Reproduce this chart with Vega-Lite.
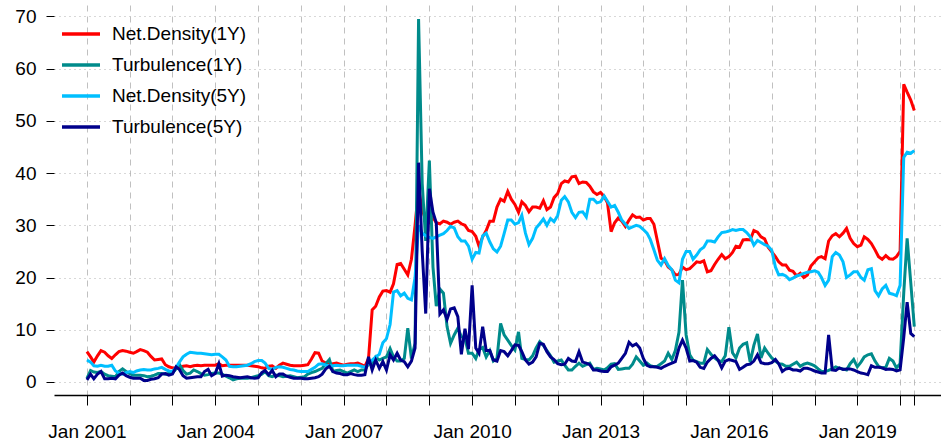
{
"$schema":"https://vega.github.io/schema/vega-lite/v6.json",
"width":887,"height":390,
"autosize":{"type":"none"},
"padding":{"left":54,"top":5,"right":0,"bottom":50},
"background":"white",
"config":{"view":{"stroke":null},"font":"Liberation Sans","axis":{"labelFont":"Liberation Sans","labelColor":"black"},"legend":{"labelFont":"Liberation Sans"}},
"data":{"values":[
{"d":"2001-01","r":5.8,"t":0.7,"c":4.2,"n":0.4},{"d":"2001-02","r":4.8,"t":2.2,"c":3.8,"n":1.5},{"d":"2001-03","r":3.8,"t":1.9,"c":3.1,"n":0.6},{"d":"2001-04","r":5.0,"t":1.8,"c":3.0,"n":1.5},{"d":"2001-05","r":6.0,"t":2.0,"c":3.2,"n":2.0},{"d":"2001-06","r":5.7,"t":1.5,"c":3.0,"n":0.6},{"d":"2001-07","r":5.0,"t":1.2,"c":3.0,"n":0.6},{"d":"2001-08","r":4.5,"t":1.1,"c":3.2,"n":0.7},{"d":"2001-09","r":5.2,"t":1.0,"c":2.1,"n":0.6},{"d":"2001-10","r":5.8,"t":2.0,"c":1.7,"n":1.3},{"d":"2001-11","r":6.0,"t":2.5,"c":1.5,"n":1.7},{"d":"2001-12","r":5.9,"t":2.0,"c":1.8,"n":1.2},
{"d":"2002-01","r":5.7,"t":1.6,"c":2.0,"n":0.9},{"d":"2002-02","r":5.5,"t":1.3,"c":1.8,"n":0.7},{"d":"2002-03","r":5.8,"t":1.3,"c":2.1,"n":0.7},{"d":"2002-04","r":6.2,"t":1.3,"c":2.3,"n":0.7},{"d":"2002-05","r":6.0,"t":1.2,"c":2.4,"n":0.3},{"d":"2002-06","r":5.7,"t":1.0,"c":2.3,"n":0.3},{"d":"2002-07","r":4.9,"t":1.1,"c":2.3,"n":0.5},{"d":"2002-08","r":4.2,"t":1.3,"c":2.5,"n":0.6},{"d":"2002-09","r":4.3,"t":1.6,"c":2.6,"n":0.8},{"d":"2002-10","r":4.4,"t":1.6,"c":2.8,"n":1.5},{"d":"2002-11","r":3.3,"t":1.5,"c":2.4,"n":1.6},{"d":"2002-12","r":2.9,"t":1.6,"c":2.1,"n":1.3},
{"d":"2003-01","r":2.7,"t":1.7,"c":2.0,"n":1.5},{"d":"2003-02","r":2.6,"t":2.5,"c":2.8,"n":2.9},{"d":"2003-03","r":2.7,"t":3.4,"c":3.8,"n":2.4},{"d":"2003-04","r":3.0,"t":2.2,"c":4.8,"n":1.2},{"d":"2003-05","r":3.1,"t":1.5,"c":5.3,"n":0.7},{"d":"2003-06","r":2.9,"t":1.7,"c":5.7,"n":0.8},{"d":"2003-07","r":3.1,"t":2.3,"c":5.6,"n":0.9},{"d":"2003-08","r":3.2,"t":2.0,"c":5.5,"n":1.0},{"d":"2003-09","r":3.1,"t":1.6,"c":5.5,"n":1.0},{"d":"2003-10","r":3.2,"t":1.3,"c":5.4,"n":2.0},{"d":"2003-11","r":3.2,"t":1.4,"c":5.3,"n":2.4},{"d":"2003-12","r":3.2,"t":1.6,"c":5.2,"n":1.2},
{"d":"2004-01","r":3.2,"t":1.7,"c":5.3,"n":1.6},{"d":"2004-02","r":3.5,"t":1.7,"c":5.3,"n":3.5},{"d":"2004-03","r":3.1,"t":1.5,"c":4.8,"n":1.1},{"d":"2004-04","r":3.2,"t":1.1,"c":4.2,"n":1.3},{"d":"2004-05","r":3.2,"t":0.8,"c":3.0,"n":1.2},{"d":"2004-06","r":3.2,"t":0.4,"c":2.9,"n":1.0},{"d":"2004-07","r":3.2,"t":0.6,"c":2.9,"n":0.9},{"d":"2004-08","r":3.2,"t":0.7,"c":3.0,"n":0.8},{"d":"2004-09","r":3.2,"t":0.7,"c":3.1,"n":0.9},{"d":"2004-10","r":3.2,"t":0.7,"c":3.2,"n":1.0},{"d":"2004-11","r":3.1,"t":0.8,"c":3.5,"n":0.8},{"d":"2004-12","r":3.0,"t":1.0,"c":3.9,"n":0.7},
{"d":"2005-01","r":2.9,"t":1.2,"c":4.1,"n":0.8},{"d":"2005-02","r":2.7,"t":1.5,"c":4.1,"n":1.8},{"d":"2005-03","r":2.6,"t":2.0,"c":3.6,"n":2.2},{"d":"2005-04","r":3.0,"t":1.2,"c":2.6,"n":1.4},{"d":"2005-05","r":3.1,"t":1.0,"c":2.4,"n":2.2},{"d":"2005-06","r":2.6,"t":1.3,"c":2.8,"n":1.0},{"d":"2005-07","r":3.2,"t":1.2,"c":2.9,"n":1.5},{"d":"2005-08","r":3.6,"t":1.0,"c":2.8,"n":1.5},{"d":"2005-09","r":3.4,"t":1.1,"c":2.6,"n":1.1},{"d":"2005-10","r":3.2,"t":1.2,"c":2.4,"n":0.9},{"d":"2005-11","r":3.1,"t":1.0,"c":2.3,"n":0.7},{"d":"2005-12","r":3.1,"t":0.8,"c":2.1,"n":0.7},
{"d":"2006-01","r":3.1,"t":0.9,"c":2.0,"n":0.7},{"d":"2006-02","r":3.2,"t":1.0,"c":2.0,"n":0.6},{"d":"2006-03","r":3.3,"t":1.5,"c":2.0,"n":0.6},{"d":"2006-04","r":4.4,"t":1.8,"c":2.4,"n":0.7},{"d":"2006-05","r":5.6,"t":2.0,"c":2.8,"n":0.8},{"d":"2006-06","r":5.5,"t":2.3,"c":3.4,"n":1.0},{"d":"2006-07","r":4.0,"t":2.6,"c":3.5,"n":1.5},{"d":"2006-08","r":3.6,"t":3.5,"c":3.2,"n":2.5},{"d":"2006-09","r":3.4,"t":4.3,"c":3.1,"n":3.0},{"d":"2006-10","r":3.5,"t":2.0,"c":3.1,"n":2.0},{"d":"2006-11","r":3.6,"t":2.2,"c":3.2,"n":1.7},{"d":"2006-12","r":3.4,"t":2.3,"c":3.1,"n":1.6},
{"d":"2007-01","r":3.2,"t":2.0,"c":3.1,"n":1.4},{"d":"2007-02","r":3.4,"t":1.7,"c":3.2,"n":1.4},{"d":"2007-03","r":3.5,"t":2.0,"c":3.2,"n":1.6},{"d":"2007-04","r":3.5,"t":2.3,"c":3.2,"n":1.4},{"d":"2007-05","r":3.6,"t":2.0,"c":3.2,"n":1.3},{"d":"2007-06","r":3.3,"t":2.3,"c":3.0,"n":1.3},{"d":"2007-07","r":3.0,"t":2.3,"c":2.8,"n":1.4},{"d":"2007-08","r":4.5,"t":3.5,"c":3.5,"n":4.8},{"d":"2007-09","r":13.8,"t":3.3,"c":4.2,"n":2.3},{"d":"2007-10","r":14.5,"t":4.8,"c":4.8,"n":4.2},{"d":"2007-11","r":16.3,"t":4.2,"c":5.3,"n":2.6},{"d":"2007-12","r":17.4,"t":4.5,"c":7.5,"n":3.9},
{"d":"2008-01","r":17.5,"t":4.8,"c":8.3,"n":2.3},{"d":"2008-02","r":17.2,"t":6.4,"c":11.0,"n":5.2},{"d":"2008-03","r":18.8,"t":4.8,"c":17.2,"n":4.2},{"d":"2008-04","r":22.5,"t":4.0,"c":17.5,"n":5.5},{"d":"2008-05","r":22.7,"t":4.0,"c":16.5,"n":4.2},{"d":"2008-06","r":21.6,"t":4.5,"c":17.0,"n":3.9},{"d":"2008-07","r":20.5,"t":10.3,"c":16.0,"n":2.9},{"d":"2008-08","r":23.5,"t":4.5,"c":15.7,"n":4.0},{"d":"2008-09","r":30.0,"t":7.4,"c":20.0,"n":6.5},{"d":"2008-10","r":37.0,"t":69.5,"c":30.0,"n":42.0},{"d":"2008-11","r":33.0,"t":38.0,"c":28.5,"n":25.0},{"d":"2008-12","r":31.0,"t":27.0,"c":28.0,"n":13.1},
{"d":"2009-01","r":30.5,"t":42.4,"c":27.7,"n":37.0},{"d":"2009-02","r":31.5,"t":22.0,"c":27.5,"n":32.5},{"d":"2009-03","r":30.5,"t":14.5,"c":27.8,"n":30.5},{"d":"2009-04","r":30.3,"t":17.8,"c":28.1,"n":13.0},{"d":"2009-05","r":30.8,"t":17.0,"c":28.4,"n":13.8},{"d":"2009-06","r":30.6,"t":10.6,"c":29.0,"n":12.0},{"d":"2009-07","r":30.2,"t":7.4,"c":29.8,"n":14.0},{"d":"2009-08","r":30.6,"t":9.0,"c":29.5,"n":14.2},{"d":"2009-09","r":30.8,"t":10.3,"c":27.8,"n":12.5},{"d":"2009-10","r":30.3,"t":8.7,"c":27.0,"n":5.3},{"d":"2009-11","r":30.0,"t":8.3,"c":27.0,"n":10.2},{"d":"2009-12","r":29.0,"t":5.5,"c":26.0,"n":6.3},
{"d":"2010-01","r":28.8,"t":5.5,"c":23.5,"n":18.5},{"d":"2010-02","r":27.9,"t":4.5,"c":24.8,"n":6.5},{"d":"2010-03","r":26.0,"t":6.2,"c":24.7,"n":5.5},{"d":"2010-04","r":27.8,"t":6.6,"c":28.0,"n":10.6},{"d":"2010-05","r":29.0,"t":4.8,"c":28.5,"n":6.0},{"d":"2010-06","r":30.8,"t":6.0,"c":26.8,"n":6.0},{"d":"2010-07","r":30.8,"t":4.0,"c":25.5,"n":4.2},{"d":"2010-08","r":33.5,"t":4.5,"c":24.9,"n":4.0},{"d":"2010-09","r":35.0,"t":11.2,"c":26.0,"n":6.0},{"d":"2010-10","r":34.6,"t":9.0,"c":28.4,"n":5.8},{"d":"2010-11","r":36.5,"t":8.0,"c":31.0,"n":5.0},{"d":"2010-12","r":35.0,"t":7.0,"c":31.0,"n":6.0},
{"d":"2011-01","r":34.0,"t":6.1,"c":30.2,"n":7.1},{"d":"2011-02","r":32.5,"t":9.6,"c":30.5,"n":7.0},{"d":"2011-03","r":34.5,"t":4.5,"c":31.9,"n":5.8},{"d":"2011-04","r":33.8,"t":4.3,"c":28.5,"n":4.2},{"d":"2011-05","r":32.6,"t":4.2,"c":26.3,"n":3.4},{"d":"2011-06","r":33.5,"t":5.0,"c":27.5,"n":3.8},{"d":"2011-07","r":33.5,"t":6.5,"c":29.5,"n":4.8},{"d":"2011-08","r":33.3,"t":7.7,"c":30.3,"n":7.4},{"d":"2011-09","r":34.7,"t":7.0,"c":31.2,"n":7.2},{"d":"2011-10","r":33.0,"t":6.0,"c":30.0,"n":5.8},{"d":"2011-11","r":33.5,"t":5.0,"c":31.3,"n":4.8},{"d":"2011-12","r":35.3,"t":3.8,"c":30.7,"n":4.3},
{"d":"2012-01","r":36.1,"t":4.0,"c":31.9,"n":3.5},{"d":"2012-02","r":38.0,"t":4.2,"c":34.8,"n":3.3},{"d":"2012-03","r":38.5,"t":3.2,"c":35.5,"n":3.4},{"d":"2012-04","r":38.3,"t":2.3,"c":34.5,"n":4.5},{"d":"2012-05","r":39.3,"t":2.3,"c":32.5,"n":4.0},{"d":"2012-06","r":39.4,"t":3.0,"c":31.5,"n":3.9},{"d":"2012-07","r":38.0,"t":3.6,"c":32.5,"n":5.8},{"d":"2012-08","r":38.3,"t":3.0,"c":32.6,"n":3.8},{"d":"2012-09","r":38.2,"t":3.3,"c":31.6,"n":3.6},{"d":"2012-10","r":37.5,"t":3.6,"c":35.0,"n":3.3},{"d":"2012-11","r":36.4,"t":2.4,"c":35.0,"n":2.3},{"d":"2012-12","r":35.9,"t":2.6,"c":34.3,"n":2.3},
{"d":"2013-01","r":36.3,"t":2.5,"c":34.5,"n":2.1},{"d":"2013-02","r":35.5,"t":2.3,"c":35.6,"n":2.0},{"d":"2013-03","r":34.3,"t":2.7,"c":34.6,"n":2.0},{"d":"2013-04","r":28.8,"t":3.4,"c":33.5,"n":2.9},{"d":"2013-05","r":30.5,"t":3.5,"c":33.8,"n":3.2},{"d":"2013-06","r":31.4,"t":2.4,"c":32.5,"n":3.6},{"d":"2013-07","r":30.8,"t":2.5,"c":31.0,"n":4.5},{"d":"2013-08","r":29.8,"t":2.6,"c":30.2,"n":5.5},{"d":"2013-09","r":31.0,"t":2.6,"c":29.4,"n":7.6},{"d":"2013-10","r":32.0,"t":3.4,"c":29.7,"n":6.9},{"d":"2013-11","r":31.5,"t":4.8,"c":30.0,"n":7.3},{"d":"2013-12","r":31.6,"t":4.0,"c":29.8,"n":6.5},
{"d":"2014-01","r":31.0,"t":3.2,"c":29.2,"n":4.5},{"d":"2014-02","r":31.3,"t":3.6,"c":28.5,"n":3.2},{"d":"2014-03","r":31.3,"t":3.1,"c":27.3,"n":2.9},{"d":"2014-04","r":30.2,"t":2.9,"c":25.3,"n":2.9},{"d":"2014-05","r":27.0,"t":3.0,"c":23.3,"n":2.8},{"d":"2014-06","r":23.7,"t":3.5,"c":22.4,"n":2.6},{"d":"2014-07","r":23.3,"t":4.0,"c":23.6,"n":3.0},{"d":"2014-08","r":22.0,"t":5.5,"c":22.3,"n":3.3},{"d":"2014-09","r":21.5,"t":4.3,"c":21.5,"n":3.6},{"d":"2014-10","r":20.5,"t":6.0,"c":19.5,"n":3.9},{"d":"2014-11","r":20.6,"t":9.5,"c":19.0,"n":6.5},{"d":"2014-12","r":22.0,"t":19.5,"c":23.5,"n":8.0},
{"d":"2015-01","r":21.5,"t":9.0,"c":25.0,"n":6.5},{"d":"2015-02","r":21.7,"t":5.2,"c":25.0,"n":4.0},{"d":"2015-03","r":22.3,"t":4.2,"c":23.5,"n":4.1},{"d":"2015-04","r":23.0,"t":3.9,"c":24.3,"n":3.8},{"d":"2015-05","r":22.9,"t":3.6,"c":25.3,"n":2.8},{"d":"2015-06","r":23.2,"t":3.6,"c":25.8,"n":2.6},{"d":"2015-07","r":21.1,"t":6.2,"c":27.0,"n":3.8},{"d":"2015-08","r":21.3,"t":5.3,"c":27.0,"n":4.5},{"d":"2015-09","r":22.5,"t":4.6,"c":26.8,"n":5.0},{"d":"2015-10","r":23.5,"t":4.1,"c":27.8,"n":4.2},{"d":"2015-11","r":24.4,"t":3.9,"c":28.6,"n":2.7},{"d":"2015-12","r":23.6,"t":5.0,"c":28.7,"n":4.0},
{"d":"2016-01","r":24.0,"t":10.5,"c":28.9,"n":4.3},{"d":"2016-02","r":24.8,"t":5.6,"c":29.2,"n":4.1},{"d":"2016-03","r":26.0,"t":4.6,"c":29.0,"n":3.9},{"d":"2016-04","r":25.8,"t":6.5,"c":29.2,"n":2.4},{"d":"2016-05","r":27.2,"t":7.2,"c":29.2,"n":2.8},{"d":"2016-06","r":27.3,"t":7.5,"c":28.6,"n":3.3},{"d":"2016-07","r":27.2,"t":3.8,"c":27.8,"n":3.4},{"d":"2016-08","r":29.0,"t":7.0,"c":26.2,"n":4.0},{"d":"2016-09","r":28.7,"t":9.2,"c":27.1,"n":5.2},{"d":"2016-10","r":27.8,"t":4.6,"c":26.7,"n":3.7},{"d":"2016-11","r":27.4,"t":6.5,"c":26.3,"n":3.5},{"d":"2016-12","r":25.8,"t":5.5,"c":26.0,"n":3.5},
{"d":"2017-01","r":24.9,"t":4.6,"c":25.2,"n":3.7},{"d":"2017-02","r":24.0,"t":4.0,"c":22.0,"n":4.3},{"d":"2017-03","r":23.0,"t":3.5,"c":20.5,"n":3.5},{"d":"2017-04","r":22.4,"t":3.4,"c":20.6,"n":2.0},{"d":"2017-05","r":22.4,"t":3.0,"c":20.3,"n":2.5},{"d":"2017-06","r":21.4,"t":3.0,"c":19.6,"n":2.6},{"d":"2017-07","r":21.2,"t":3.4,"c":19.9,"n":2.3},{"d":"2017-08","r":20.3,"t":3.8,"c":20.3,"n":2.3},{"d":"2017-09","r":20.8,"t":3.0,"c":20.5,"n":2.1},{"d":"2017-10","r":20.0,"t":3.4,"c":20.8,"n":2.6},{"d":"2017-11","r":20.5,"t":3.6,"c":21.0,"n":2.6},{"d":"2017-12","r":22.2,"t":3.4,"c":21.1,"n":2.4},
{"d":"2018-01","r":23.0,"t":3.1,"c":21.3,"n":2.1},{"d":"2018-02","r":23.8,"t":2.5,"c":21.0,"n":1.9},{"d":"2018-03","r":24.0,"t":2.0,"c":20.0,"n":1.7},{"d":"2018-04","r":23.6,"t":2.0,"c":18.5,"n":1.7},{"d":"2018-05","r":27.0,"t":2.2,"c":19.5,"n":9.0},{"d":"2018-06","r":28.0,"t":2.5,"c":24.0,"n":2.3},{"d":"2018-07","r":28.4,"t":2.9,"c":24.8,"n":2.2},{"d":"2018-08","r":27.8,"t":2.6,"c":24.3,"n":2.7},{"d":"2018-09","r":28.5,"t":2.5,"c":23.0,"n":2.4},{"d":"2018-10","r":29.4,"t":2.3,"c":20.0,"n":2.5},{"d":"2018-11","r":27.5,"t":3.5,"c":20.5,"n":2.5},{"d":"2018-12","r":26.5,"t":4.3,"c":21.1,"n":2.3},
{"d":"2019-01","r":25.9,"t":2.9,"c":21.1,"n":2.0},{"d":"2019-02","r":26.2,"t":3.8,"c":20.0,"n":1.7},{"d":"2019-03","r":27.8,"t":4.8,"c":19.5,"n":1.6},{"d":"2019-04","r":27.3,"t":5.2,"c":21.5,"n":1.4},{"d":"2019-05","r":26.5,"t":5.4,"c":21.7,"n":3.1},{"d":"2019-06","r":25.3,"t":4.0,"c":17.5,"n":2.8},{"d":"2019-07","r":24.0,"t":3.0,"c":16.5,"n":2.8},{"d":"2019-08","r":23.5,"t":2.7,"c":17.8,"n":2.7},{"d":"2019-09","r":24.2,"t":2.8,"c":18.5,"n":2.4},{"d":"2019-10","r":23.6,"t":4.5,"c":17.0,"n":2.5},{"d":"2019-11","r":23.5,"t":4.0,"c":16.8,"n":2.4},{"d":"2019-12","r":24.0,"t":2.7,"c":16.5,"n":2.1},
{"d":"2020-01","r":25.0,"t":3.5,"c":18.5,"n":2.3},{"d":"2020-02","r":57.0,"t":17.0,"c":43.0,"n":8.5},{"d":"2020-03","r":55.5,"t":27.5,"c":44.0,"n":15.3},{"d":"2020-04","r":54.0,"t":19.0,"c":43.8,"n":9.3},{"d":"2020-05","r":52.0,"t":10.6,"c":44.3,"n":8.7}
]},
"transform":[{"fold":["r","t","c","n"],"as":["s","v"]}],
"mark":{"type":"line","strokeWidth":3,"clip":true},
"encoding":{
"x":{"field":"d","type":"temporal","scale":{"type":"utc","domain":[{"year":2000,"month":3,"date":26,"utc":true},{"year":2020,"month":12,"date":15,"utc":true}]},
 "axis":{"title":null,"values":[{"year":2001,"month":1,"date":1,"utc":true},{"year":2002,"month":1,"date":1,"utc":true},{"year":2003,"month":1,"date":1,"utc":true},{"year":2004,"month":1,"date":1,"utc":true},{"year":2005,"month":1,"date":1,"utc":true},{"year":2006,"month":1,"date":1,"utc":true},{"year":2007,"month":1,"date":1,"utc":true},{"year":2008,"month":1,"date":1,"utc":true},{"year":2009,"month":1,"date":1,"utc":true},{"year":2010,"month":1,"date":1,"utc":true},{"year":2011,"month":1,"date":1,"utc":true},{"year":2012,"month":1,"date":1,"utc":true},{"year":2013,"month":1,"date":1,"utc":true},{"year":2014,"month":1,"date":1,"utc":true},{"year":2015,"month":1,"date":1,"utc":true},{"year":2016,"month":1,"date":1,"utc":true},{"year":2017,"month":1,"date":1,"utc":true},{"year":2018,"month":1,"date":1,"utc":true},{"year":2019,"month":1,"date":1,"utc":true},{"year":2020,"month":1,"date":1,"utc":true},{"year":2020,"month":5,"date":1,"utc":true}],
 "labelExpr":"utcmonth(datum.value) == 0 && utcyear(datum.value) % 3 == 0 ? utcFormat(datum.value, '%b %Y') : ''",
 "labelOverlap":false,"labelFlush":false,"labelFontSize":19,"labelPadding":17,
 "grid":true,"gridDash":[6,5],"gridColor":"#c0c0c0","gridWidth":1,
 "domainColor":"black","domainWidth":1.5,"tickColor":"black","tickSize":10,"tickWidth":1}},
"y":{"field":"v","type":"quantitative","scale":{"domain":[-2.5,72.2],"nice":false,"zero":false},
 "axis":{"title":null,"values":[0,10,20,30,40,50,60,70],"domain":false,"tickColor":"black","tickSize":8,"labelFontSize":19,"labelPadding":10,
 "grid":true,"gridDash":[1,4],"gridColor":"#b0b0b0","gridWidth":1}},
"color":{"field":"s","type":"nominal","scale":{"domain":["r","t","c","n"],"range":["#FF0000","#008B8B","#00BFFF","#00008B"]},
 "legend":{"title":null,"orient":"none","legendX":6,"legendY":8,"padding":0,"symbolType":"stroke","symbolStrokeWidth":3.5,"symbolSize":1444,"rowPadding":-5,"labelFontSize":19,"labelOffset":10,"labelColor":"black",
 "labelExpr":"{'r':'Net.Density(1Y)','t':'Turbulence(1Y)','c':'Net.Density(5Y)','n':'Turbulence(5Y)'}[datum.label]"}}
}
}
